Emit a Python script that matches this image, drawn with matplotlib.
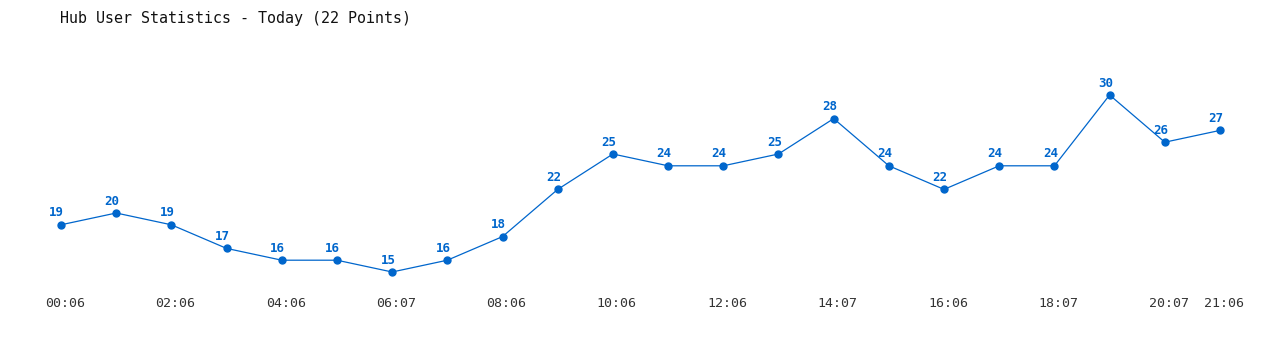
import numpy as np
import matplotlib.pyplot as plt
from matplotlib import transforms

times = ['00:06', '', '02:06', '', '04:06', '', '06:07', '', '08:06', '', '10:06', '',
         '12:06', '', '14:07', '', '16:06', '', '18:07', '', '20:07', '21:06']
users = [19, 20, 19, 17, 16, 16, 15, 16, 18, 22, 25, 24, 24, 25, 28, 24, 22, 24, 24, 30, 26, 27]
title = 'Hub User Statistics - Today (22 Points)'

blue = '#0066cc'
W, H = 1280, 350
fig = plt.figure(figsize=(12.8, 3.5), dpi=100)
# axes placed so index 0..21 spans px 61..1220 and values 15..30 span px 272..95
ax = fig.add_axes([61 / W, (H - 272) / H, 1159 / W, 177 / H])
x = np.arange(len(users))
ax.plot(x, users, color=blue, lw=0.9, marker='o', ms=5, clip_on=False)
ax.set_xlim(0, len(users) - 1)
ax.set_ylim(15, 30)
for i, v in zip(x, users):
    ax.annotate(str(v), (i, v), xytext=(-3, 6), textcoords='offset points',
                ha='center', va='baseline', color=blue, fontsize=9,
                fontweight='bold', family='DejaVu Sans Mono')

ticks = [i for i, t in enumerate(times) if t]
ax.set_xticks(ticks)
ax.set_xticklabels([times[i] for i in ticks], family='DejaVu Sans Mono',
                   fontsize=9.5, color='#333333')
ax.tick_params(axis='x', length=0, pad=18)
ax.set_yticks([])
off = transforms.ScaledTranslation(4 / 100, 0, fig.dpi_scale_trans)
for lab in ax.get_xticklabels():
    lab.set_transform(lab.get_transform() + off)
for s in ax.spines.values():
    s.set_visible(False)

fig.text(60 / W, 1 - 18 / H, title, ha='left', va='center',
         family='DejaVu Sans Mono', fontsize=10.8, color='#111111')
fig.savefig('out.png', dpi=100, facecolor='white')
